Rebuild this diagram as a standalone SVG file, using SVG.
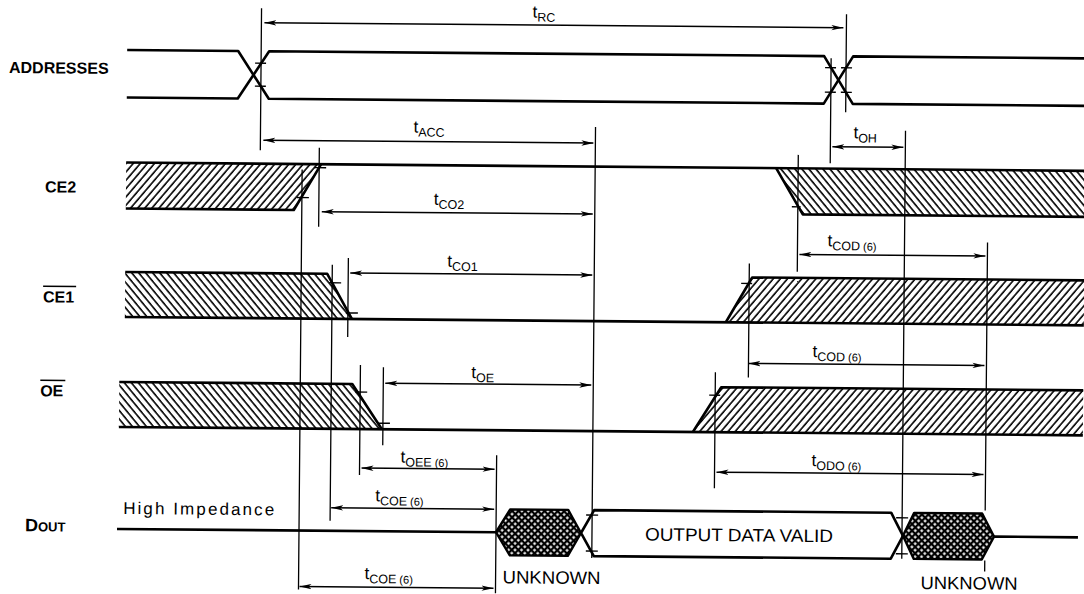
<svg xmlns="http://www.w3.org/2000/svg" width="1084" height="594" viewBox="0 0 1084 594">
<defs>
<style>
.sig{fill:none;stroke:#000;stroke-width:2.6;stroke-linejoin:round}
.hex{fill:url(#xh);stroke:#000;stroke-width:2.4;stroke-linejoin:round}
.v{stroke:#000;stroke-width:1.3;fill:none}
.tk{stroke:#000;stroke-width:1.4}
.arr{stroke:#000;stroke-width:1.5;marker-start:url(#ah);marker-end:url(#ah)}
.ol{stroke:#000;stroke-width:1.6}
text{font-family:"Liberation Sans",Arial,sans-serif;fill:#000}
.nm{font-size:16px;font-weight:bold}
.t{font-size:17px}
.sb{font-size:12.5px}
.s6{font-size:11px}
.big{font-size:18px}
</style>
<pattern id="hr" width="5.4" height="10" patternUnits="userSpaceOnUse" patternTransform="rotate(40)"><line x1="1" y1="0" x2="1" y2="10" stroke="#000" stroke-width="1.6"/></pattern>
<pattern id="hl" width="5.4" height="10" patternUnits="userSpaceOnUse" patternTransform="rotate(-40)"><line x1="1" y1="0" x2="1" y2="10" stroke="#000" stroke-width="1.6"/></pattern>
<pattern id="xh" width="4.6" height="4.6" patternUnits="userSpaceOnUse" patternTransform="rotate(45)"><rect width="4.6" height="4.6" fill="#000"/><rect x="1.2" y="1.2" width="2.3" height="2.3" fill="#fff"/></pattern>
<marker id="ah" viewBox="0 0 12 6" refX="12" refY="3" markerWidth="12" markerHeight="6" markerUnits="userSpaceOnUse" orient="auto-start-reverse"><path d="M0,0.3 L12,3 L0,5.7 L3,3 z" fill="#000"/></marker>
</defs>
<rect width="1084" height="594" fill="#fff"/>
<g transform="rotate(0.5 125 300)">
<g id="addresses">
<path class="sig" d="M125,50 H236 L267,97.5 H822 L851,50 H1084"/>
<path class="sig" d="M125,97.5 H236 L267,50 H822 L851,97.5 H1084"/>
<text class="nm" x="7" y="74">ADDRESSES</text>
</g>
<g id="ce2">
<polygon fill="url(#hr)" points="125,162.5 320,162.5 293,208.5 125,208.5"/>
<polygon fill="url(#hl)" points="775,162.5 1084,162.5 1084,208.5 802,208.5"/>
<path class="sig" d="M125,162.5 H1084"/>
<path class="sig" d="M125,208.5 H293 L320,162.5"/>
<path class="sig" d="M775,162.5 L802,208.5 H1084"/>
<text class="nm" x="44" y="193">CE2</text>
</g>
<g id="ce1">
<polygon fill="url(#hl)" points="125,272 327,272 352,317 125,317"/>
<polygon fill="url(#hr)" points="726,317 752,272 1084,272 1084,317"/>
<path class="sig" d="M125,272 H327 L352,317"/>
<path class="sig" d="M125,317 H1084"/>
<path class="sig" d="M726,317 L752,272 H1084"/>
<text class="nm" x="43" y="303">CE1</text>
<line class="ol" x1="43" y1="287" x2="76" y2="287"/>
</g>
<g id="oe">
<polygon fill="url(#hl)" points="120,382 353,382 383,427 120,427"/>
<polygon fill="url(#hr)" points="694,427 722,382 1084,382 1084,427"/>
<path class="sig" d="M120,382 H353 L383,427"/>
<path class="sig" d="M120,427 H1084"/>
<path class="sig" d="M694,427 L722,382 H1084"/>
<text class="nm" x="41" y="397">OE</text>
<line class="ol" x1="41" y1="381" x2="66" y2="381"/>
</g>
<g id="dout">
<path class="sig" d="M119,529 H498"/>
<polygon class="hex" points="498,529 512,506 570,506 583,529 570,552 512,552"/>
<polygon class="sig" points="583,529 596,506 893,506 905,529 893,552 596,552"/>
<polygon class="hex" points="905,529 916,506 984,506 996,529 984,552 916,552"/>
<path class="sig" d="M996,529 H1080"/>
<text class="nm" x="27" y="532" style="font-size:18px">D<tspan style="font-size:13px">OUT</tspan></text>
<text x="125" y="514" style="font-size:17px" textLength="151" lengthAdjust="spacing">High  Impedance</text>
<text class="big" x="647" y="536" textLength="188" lengthAdjust="spacingAndGlyphs">OUTPUT DATA VALID</text>
<text class="big" x="505" y="580" textLength="98" lengthAdjust="spacingAndGlyphs">UNKNOWN</text>
<text class="big" x="923" y="582" textLength="97" lengthAdjust="spacingAndGlyphs">UNKNOWN</text>
</g>
<g id="connectors">
<path class="v" d="M259,7V149 M844,8V106 M829,52V157 M904,124V552 M594,123V554 M318,146V225 M301,168V588 M332,263V519 M348,256V335 M361,363V473 M384,365V443 M498,452V590 M797,149V266 M749,258V372 M987,235V503 M987,553V564 M716,367V483"/>
<path class="tk" d="M253,62H264 M253,85H264 M823,61.5H834 M823,86H834 M839,61.5H850 M839,86H850 M296,196H308 M313,166H325 M791,201H800 M329,281H341 M346,311H358 M741,278H752 M356,390H368 M379,421H391 M710,390H721 M588,511H600 M588,547H600 M898,511H910 M898,547H910"/>
<line class="arr" x1="262" y1="21.5" x2="841" y2="21.5"/>
<line class="arr" x1="262" y1="139" x2="592" y2="139"/>
<line class="arr" x1="321" y1="210" x2="592" y2="210"/>
<line class="arr" x1="831" y1="140.5" x2="902" y2="140.5"/>
<line class="arr" x1="350" y1="271" x2="592" y2="271"/>
<line class="arr" x1="799" y1="248.5" x2="985" y2="248.5"/>
<line class="arr" x1="386" y1="381" x2="592" y2="381"/>
<line class="arr" x1="749" y1="358" x2="985" y2="358"/>
<line class="arr" x1="363" y1="466" x2="496" y2="466"/>
<line class="arr" x1="333" y1="506" x2="496" y2="506"/>
<line class="arr" x1="302" y1="585" x2="496" y2="585"/>
<line class="arr" x1="718" y1="467" x2="985" y2="467"/>
</g>
<g id="labels">
<text class="t" x="530" y="14">t<tspan class="sb" dy="4">RC</tspan></text>
<text class="t" x="412" y="130">t<tspan class="sb" dy="4">ACC</tspan></text>
<text class="t" x="433" y="202">t<tspan class="sb" dy="4">CO2</tspan></text>
<text class="t" x="852" y="132">t<tspan class="sb" dy="4">OH</tspan></text>
<text class="t" x="447" y="264">t<tspan class="sb" dy="4">CO1</tspan></text>
<text class="t" x="827" y="240">t<tspan class="sb" dy="4">COD</tspan><tspan class="s6" dx="3">(6)</tspan></text>
<text class="t" x="472" y="375">t<tspan class="sb" dy="4">OE</tspan></text>
<text class="t" x="813" y="351">t<tspan class="sb" dy="4">COD</tspan><tspan class="s6" dx="3">(6)</tspan></text>
<text class="t" x="402" y="460">t<tspan class="sb" dy="4">OEE</tspan><tspan class="s6" dx="3">(6)</tspan></text>
<text class="t" x="377" y="499">t<tspan class="sb" dy="4">COE</tspan><tspan class="s6" dx="3">(6)</tspan></text>
<text class="t" x="367" y="577">t<tspan class="sb" dy="4">COE</tspan><tspan class="s6" dx="3">(6)</tspan></text>
<text class="t" x="813" y="460">t<tspan class="sb" dy="4">ODO</tspan><tspan class="s6" dx="3">(6)</tspan></text>
</g>
</g>
</svg>
